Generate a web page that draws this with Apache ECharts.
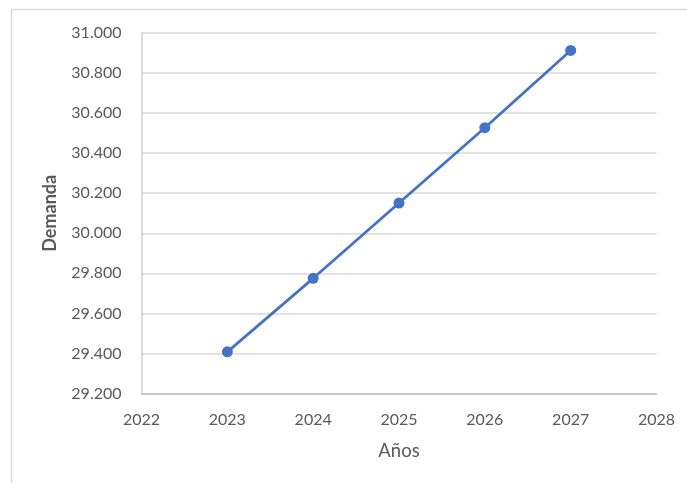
<!DOCTYPE html>
<html>
<head>
<meta charset="utf-8">
<script src="https://cdn.jsdelivr.net/npm/echarts@6/dist/echarts.min.js"></script>
<style>
  html, body { margin: 0; padding: 0; background: #ffffff; }
  #chart { width: 687px; height: 483px; }
</style>
</head>
<body>
<div id="chart"></div>
<script>
// Yearly demand projection
const years = [2023, 2024, 2025, 2026, 2027];
const demanda = [29408, 29775, 30151, 30527, 30913];

const xMin = 2022, xMax = 2028, xStep = 1;
const yMin = 29200, yMax = 31000, yStep = 200;

const textColor = '#595959';
const fontFamily = 'Lato, "Open Sans", sans-serif';

// thousands separator as a dot: 30200 -> "30.200"
function fmtThousands(v) {
  return String(Math.round(v)).replace(/\B(?=(\d{3})+(?!\d))/g, '.');
}

const chart = echarts.init(document.getElementById('chart'), null, { renderer: 'canvas' });

chart.setOption({
  backgroundColor: '#ffffff',
  animation: false,
  textStyle: { fontFamily: fontFamily },
  graphic: [{
    type: 'rect',
    shape: { x: 11.5, y: 9.5, width: 900, height: 700 },
    style: { fill: 'none', stroke: '#d9d9d9', lineWidth: 1.5 },
    silent: true,
    z: -1
  }],
  grid: { left: 141.5, right: 30.5, top: 33, bottom: 89.5, containLabel: false },
  xAxis: {
    type: 'value',
    min: xMin,
    max: xMax,
    interval: xStep,
    name: 'Años',
    nameLocation: 'middle',
    nameGap: 48,
    nameTextStyle: { color: textColor, fontSize: 18.5, fontFamily: fontFamily },
    axisLine: { show: true, onZero: false, lineStyle: { color: '#bfbfbf', width: 1.5 } },
    axisTick: { show: false },
    splitLine: { show: false },
    axisLabel: {
      color: textColor, fontSize: 16, fontFamily: fontFamily, margin: 18,
      formatter: function (v) { return String(v); }
    }
  },
  yAxis: {
    type: 'value',
    min: yMin,
    max: yMax,
    interval: yStep,
    name: 'Demanda',
    nameLocation: 'middle',
    nameGap: 82,
    nameRotate: 90,
    nameTextStyle: { color: textColor, fontSize: 18, fontWeight: 'bold', fontFamily: fontFamily },
    axisLine: { show: true, lineStyle: { color: '#d0d0d0', width: 1.5 } },
    axisTick: { show: false },
    splitLine: { show: true, lineStyle: { color: '#d9d9d9', width: 1.5 } },
    axisLabel: {
      color: textColor, fontSize: 16, fontFamily: fontFamily, margin: 20,
      formatter: fmtThousands
    }
  },
  series: [{
    type: 'line',
    data: years.map(function (y, i) { return [y, demanda[i]]; }),
    symbol: 'circle',
    symbolSize: 11,
    showSymbol: true,
    lineStyle: { color: '#4472C4', width: 2.75 },
    itemStyle: { color: '#4472C4' },
    emphasis: { disabled: true }
  }]
});
</script>
</body>
</html>
